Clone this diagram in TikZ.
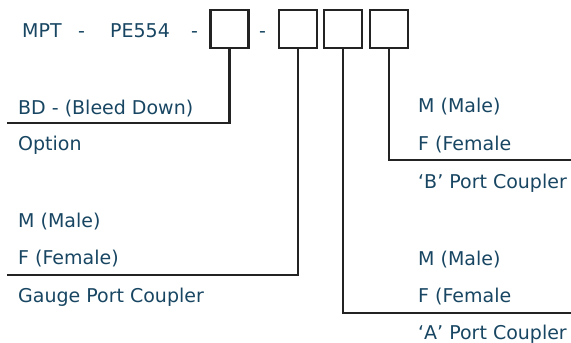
\documentclass[tikz,border=0pt]{standalone}
\usepackage{fontspec}
\setmainfont{DejaVu Sans}
\definecolor{codeblue}{RGB}{24,70,98}
\definecolor{linegray}{RGB}{35,35,35}

\begin{document}
\begin{tikzpicture}[x=1pt,y=-1pt,
		lbl/.style={anchor=base west, inner sep=0pt, text=codeblue, font=\fontsize{19}{21}\selectfont},
		slot/.style={draw=linegray, line width=2.6pt, minimum width=38pt, minimum height=38pt, inner sep=0pt},
		lead/.style={draw=linegray, line width=2.2pt}]
		\useasboundingbox (0,0) rectangle (571,343);
		%part number
		\node[lbl] (mpt) at (22,37) {MPT};
		\node[lbl] (dasha) at (78,37) {-};
		\node[lbl] (pe) at (110,37) {PE554};
		\node[lbl] (dashb) at (191,37) {-};
		\node[slot] (bd) at (229.5,29) {};
		\node[lbl] (dashc) at (259,37) {-};
		\node[slot] (gp) at (298,29) {};
		\node[slot] (ap) at (343,29) {};
		\node[slot] (bp) at (389,29) {};
		%option
		\coordinate (bdend) at (7,123);
		\node[lbl] (bdtxt) at (18,114) {BD - (Bleed Down)};
		\node[lbl] (opttxt) at (18,150) {Option};
		\draw[lead] (bd.south) |- (bdend);
		%gauge port
		\coordinate (gpend) at (7,275);
		\node[lbl] (gpm) at (18,227) {M (Male)};
		\node[lbl] (gpf) at (18,264) {F (Female)};
		\node[lbl] (gptxt) at (18,302) {Gauge Port Coupler};
		\draw[lead] (gp.south) |- (gpend);
		%A port
		\coordinate (apend) at (571,313);
		\node[lbl] (apm) at (418,265) {M (Male)};
		\node[lbl] (apf) at (418,302) {F (Female};
		\node[lbl] (aptxt) at (418,339) {‘A’ Port Coupler};
		\draw[lead] (ap.south) |- (apend);
		%B port
		\coordinate (bpend) at (571,160);
		\node[lbl] (bpm) at (418,112) {M (Male)};
		\node[lbl] (bpf) at (418,150) {F (Female};
		\node[lbl] (bptxt) at (418,188) {‘B’ Port Coupler};
		\draw[lead] (bp.south) |- (bpend);
	\end{tikzpicture}
\end{document}
